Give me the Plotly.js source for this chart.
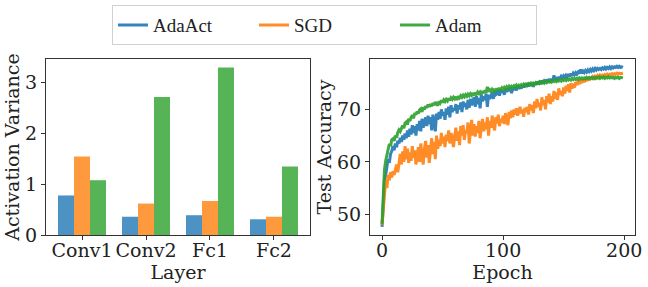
<!DOCTYPE html>
<html>
<head>
<meta charset="utf-8">
<script src="https://cdn.plot.ly/plotly-3.0.1.min.js"></script>
<style>html,body{margin:0;padding:0;background:#fff;}#chart{width:648px;height:287px;}</style>
</head>
<body>
<div id="chart"></div>
<script>
const layers = ["Conv1", "Conv2", "Fc1", "Fc2"];
const varAdaAct = [0.78, 0.36, 0.39, 0.31];
const varSGD = [1.55, 0.62, 0.67, 0.36];
const varAdam = [1.08, 2.72, 3.30, 1.35];

const epochs = Array.from({length: 200}, (_, i) => i);

const accAdam = [
48.2,55.0,58.5,60.2,61.5,62.6,63.4,63.0,64.2,64.4,
64.0,65.0,64.6,65.6,66.1,65.8,66.5,66.9,66.4,67.4,
67.6,67.1,68.2,67.8,68.5,68.9,68.3,69.3,69.0,69.6,
69.2,69.9,70.1,69.5,70.4,70.0,70.6,70.3,70.9,70.5,
71.0,70.6,71.2,70.8,71.4,71.1,70.7,71.5,71.2,71.7,
71.3,71.8,71.5,71.9,71.6,72.1,71.7,72.2,71.9,72.3,
72.0,72.4,71.8,72.5,72.2,72.6,72.3,72.7,72.4,72.8,
72.5,72.9,72.6,73.0,72.7,73.1,72.6,73.2,72.9,73.3,
73.0,73.3,72.9,73.5,73.1,73.6,73.2,74.3,73.4,73.7,
73.3,73.8,73.5,73.9,73.4,74.0,73.6,74.1,73.7,74.1,
73.8,74.2,73.9,74.3,74.0,74.4,74.1,74.4,74.2,74.5,
74.2,74.6,74.3,74.6,74.4,74.7,74.5,74.8,74.5,74.8,
74.6,74.9,74.7,75.0,74.7,75.0,74.8,75.1,74.9,75.1,
74.9,75.2,75.0,75.3,75.0,75.3,75.1,75.4,75.2,75.4,
75.2,75.5,75.3,75.5,75.3,75.6,75.4,75.6,75.4,75.7,
75.5,75.7,75.5,75.8,75.6,75.8,75.6,75.9,75.7,75.9,
75.7,75.9,75.7,76.0,75.8,76.0,75.8,76.0,75.8,76.1,
75.9,76.1,75.9,76.1,75.9,76.1,75.9,76.1,76.0,76.2,
75.9,76.1,76.0,76.2,75.9,76.1,76.0,76.2,76.0,76.1,
76.0,76.1,75.9,76.1,76.0,76.1,75.9,76.1,76.0,76.0];

const accAdaAct = [
47.6,53.5,56.5,57.5,59.0,60.5,59.8,61.5,62.0,63.0,
62.2,63.5,62.8,64.0,63.5,64.6,63.8,65.0,64.2,65.4,
64.5,66.0,64.8,66.3,65.2,67.0,65.5,66.8,65.0,67.2,
66.0,67.8,65.8,68.2,66.5,67.5,68.5,66.8,68.8,67.2,
68.5,66.0,69.0,67.5,65.8,69.2,68.0,69.5,68.2,70.0,
68.8,69.5,68.0,70.2,69.0,70.5,68.5,70.8,69.5,70.2,
69.8,71.0,69.2,70.8,70.0,71.3,69.5,71.5,70.5,71.2,
70.0,71.8,70.3,72.0,70.8,71.5,72.3,70.5,72.5,71.0,
72.2,70.2,72.8,71.5,72.5,71.8,73.0,70.5,72.8,72.0,
72.5,73.2,72.0,73.5,72.8,73.0,73.6,72.6,73.8,73.2,
73.5,72.8,73.9,73.3,74.0,73.5,74.2,73.1,74.1,73.7,
74.3,73.6,74.5,73.9,74.4,74.0,74.6,74.2,74.8,74.3,
74.7,74.4,75.0,74.5,74.9,74.3,75.1,74.7,75.3,74.8,
75.2,74.9,75.5,75.0,75.4,75.1,75.7,75.2,75.6,75.4,
75.8,75.4,76.5,75.6,75.9,75.7,76.2,75.8,76.3,76.0,
76.4,76.1,76.5,76.2,76.7,76.3,76.8,76.4,76.9,76.6,
77.0,76.7,77.1,76.8,77.6,76.9,77.3,77.0,77.4,77.1,
77.5,77.2,77.6,77.3,77.7,77.4,77.8,77.5,77.8,77.6,
77.8,77.6,77.9,77.7,78.0,77.7,78.0,77.8,78.1,77.8,
78.1,77.9,78.1,78.0,78.2,78.0,78.2,78.0,78.1,78.0];

const accSGD = [
48.0,51.0,54.0,56.5,55.0,57.5,56.5,58.0,57.0,58.2,
57.5,58.5,59.5,58.0,60.5,61.5,59.5,62.0,60.0,63.0,
60.5,62.5,59.8,61.8,60.2,63.0,60.8,62.2,59.5,61.5,
62.8,60.0,63.5,61.0,59.5,62.5,64.0,60.8,63.2,59.8,
62.0,64.5,61.5,63.8,60.5,65.0,62.5,64.2,63.0,65.5,
63.5,64.8,62.8,65.2,64.0,66.0,63.5,65.5,64.5,62.8,
65.0,66.5,64.0,65.8,63.2,66.8,65.0,67.0,64.2,66.0,
65.5,67.5,63.5,66.5,68.0,65.0,67.2,64.8,66.8,65.5,
67.8,64.5,66.5,68.2,65.8,67.5,66.2,68.5,65.0,67.8,
66.5,68.8,67.0,66.0,68.5,67.3,69.0,66.8,68.2,67.5,
68.8,67.2,69.3,68.0,67.0,69.5,68.3,69.8,68.5,70.0,
69.0,70.2,68.8,69.6,70.5,69.2,70.0,68.6,70.3,69.5,
70.5,69.0,71.0,69.8,70.8,69.3,71.5,70.2,72.0,70.5,
71.2,69.8,72.3,70.8,71.8,70.0,72.5,71.3,73.0,71.0,
72.5,71.5,73.5,72.0,73.2,71.8,74.0,72.8,73.5,72.5,
74.2,73.0,74.5,73.5,74.8,73.2,75.0,74.0,74.5,74.2,
75.2,74.6,75.5,74.8,75.6,75.0,75.8,75.2,75.7,75.4,
76.0,75.5,76.1,75.7,76.2,75.9,76.3,76.0,76.4,76.1,
76.5,76.2,76.5,76.3,76.6,76.4,76.7,76.5,76.7,76.6,
76.8,76.6,76.8,76.7,76.9,76.7,76.9,76.8,76.9,76.9];

const names = ["AdaAct", "SGD", "Adam"];
const barColors = ["rgba(31,119,180,0.8)", "rgba(255,127,14,0.8)", "rgba(44,160,44,0.8)"];
const lineColors = ["rgba(31,119,180,0.9)", "rgba(255,127,14,0.9)", "rgba(44,160,44,0.9)"];

const serif = "DejaVu Serif";
const barVals = [varAdaAct, varSGD, varAdam];
const lineVals = [accAdaAct, accSGD, accAdam];

const traces = [];
for (let i = 0; i < 3; i++) {
  traces.push({
    type: "bar", x: layers, y: barVals[i], name: names[i],
    marker: {color: barColors[i], line: {width: 0}},
    xaxis: "x", yaxis: "y", showlegend: false
  });
}
for (let i = 0; i < 3; i++) {
  traces.push({
    type: "scatter", mode: "lines", x: epochs, y: lineVals[i], name: names[i],
    line: {color: lineColors[i], width: 3},
    xaxis: "x2", yaxis: "y2", showlegend: true
  });
}

const tfont = {family: serif, size: 19, color: "#222"};
const axisCommon = {
  showgrid: false, zeroline: false, showline: true, mirror: true,
  linecolor: "#333", linewidth: 1, ticks: "outside", ticklen: 4, tickwidth: 1, tickcolor: "#333",
  tickfont: tfont
};

const layout = {
  width: 648, height: 287,
  margin: {l: 46, r: 13, t: 59, b: 52},
  paper_bgcolor: "#fff", plot_bgcolor: "#fff",
  barmode: "group", bargap: 0.25, bargroupgap: 0,
  font: tfont,
  xaxis: Object.assign({}, axisCommon, {
    domain: [0, 0.4482], range: [-0.5625, 3.5625], type: "category",
    ticklabelstandoff: -6,
    title: {text: "Layer", font: tfont, standoff: 0}
  }),
  yaxis: Object.assign({}, axisCommon, {
    range: [0, 3.47], tickvals: [0, 1, 2, 3],
    title: {text: "Activation Variance", font: tfont, standoff: 0}
  }),
  xaxis2: Object.assign({}, axisCommon, {
    domain: [0.5501, 1], range: [-9.95, 208.95], tickvals: [0, 100, 200], anchor: "y2",
    ticklabelstandoff: -6,
    title: {text: "Epoch", font: tfont, standoff: 0}
  }),
  yaxis2: Object.assign({}, axisCommon, {
    range: [46.06, 79.6], tickvals: [50, 60, 70], anchor: "x2",
    title: {text: "Test Accuracy", font: tfont, standoff: 0}
  }),
  legend: {
    orientation: "h", xref: "container", yref: "container",
    x: 0.5008, xanchor: "center", y: 0.982, yanchor: "top",
    bgcolor: "#fff", bordercolor: "#d0d0d0", borderwidth: 1,
    font: {family: "Liberation Serif, DejaVu Serif, serif", size: 19, color: "#222"},
    entrywidth: 96, entrywidthmode: "pixels"
  },
  showlegend: true
};

Plotly.newPlot("chart", traces, layout, {displayModeBar: false, staticPlot: true});
</script>
</body>
</html>
